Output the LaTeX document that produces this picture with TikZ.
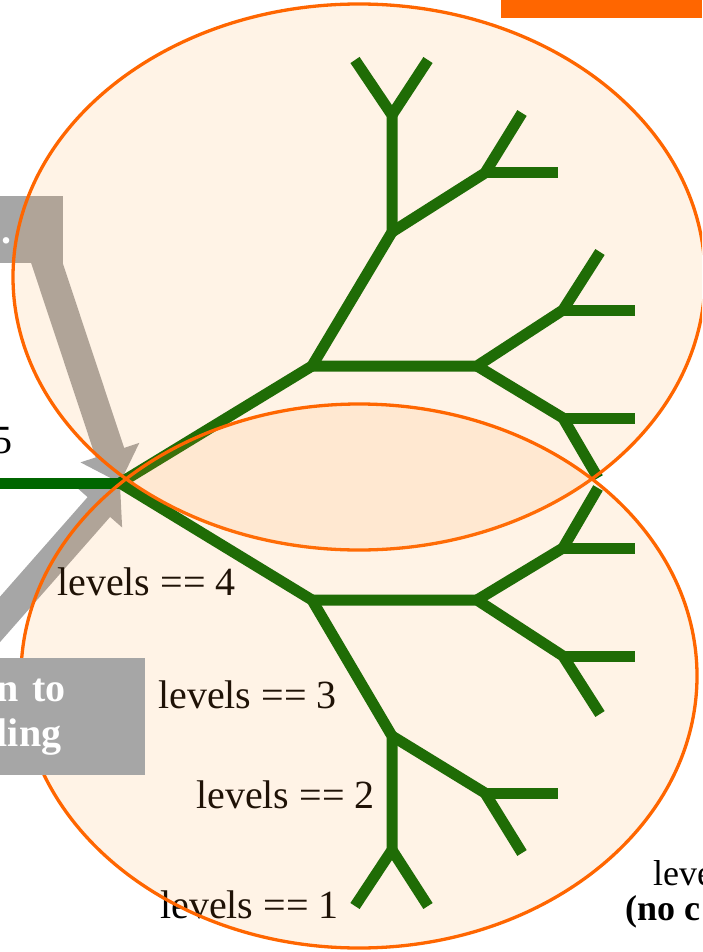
\documentclass[tikz,border=0pt]{standalone}
\usepackage{fontspec}
\setmainfont{Liberation Serif}
\usetikzlibrary{arrows.meta}

\definecolor{treegreen}{HTML}{006600}
\definecolor{ovalline}{HTML}{FF6600}
\definecolor{ovalfill}{HTML}{FF9933}
\definecolor{calloutgray}{HTML}{A6A6A6}

\tikzset{
    branch/.style={draw=treegreen, line width=11pt, line join=round},
    oval/.style={draw=ovalline, line width=3.3pt, fill=ovalfill, fill opacity=0.12},
    greybox/.style={fill=calloutgray, text=white, font=\bfseries\fontsize{40}{45}\selectfont},
    bigarrow/.style={draw=calloutgray, line width=30pt, -{Triangle[width=60pt,length=32pt]}},
    lbl/.style={font=\fontsize{40}{45}\selectfont, inner sep=0pt},
    note/.style={font=\fontsize{36}{40}\selectfont, inner sep=0pt}
}

\begin{document}
\begin{tikzpicture}[
        x=1pt,
        y=-1pt
    ]

    \useasboundingbox (0,0) rectangle (702,952);
    \clip (0,0) rectangle (702,952);

    % Callout box at the top left
    \node[greybox, anchor=east, minimum height=67pt, inner xsep=51pt, inner ysep=0pt,
        text height=27pt, text depth=0pt] (topbox) at (63,229.5) {..};

    % Recursion tree, root and incoming call
    \coordinate (stem) at (0,483);
    \coordinate (root) at (120,483);
    \coordinate (calltail) at (-34,658);

    % Big arrows pointing at the root
    \draw[bigarrow] ([shift={(-20pt,12pt)}]topbox.south east) -- (root);
    \draw[bigarrow] (calltail) -- (root);

    % Upper half
    \coordinate (uA) at (312,366);
    \coordinate (uB) at (477,366);
    \coordinate (uC) at (392,232);
    \coordinate (uD) at (485,173);
    \coordinate (uE) at (392,115);
    \coordinate (uEl) at (355,60);
    \coordinate (uEr) at (428,60);
    \coordinate (uDh) at (558,173);
    \coordinate (uDt) at (522,113);
    \coordinate (uF) at (563,310);
    \coordinate (uFh) at (635,310);
    \coordinate (uFt) at (600,252);
    \coordinate (uG) at (563,418);
    \coordinate (uGh) at (635,418);
    \coordinate (uGt) at (598,478);

    % Lower half
    \coordinate (lA) at (312,600);
    \coordinate (lB) at (477,600);
    \coordinate (lC) at (392,736);
    \coordinate (lD) at (485,793);
    \coordinate (lE) at (392,850);
    \coordinate (lEl) at (355,906);
    \coordinate (lEr) at (428,906);
    \coordinate (lDh) at (558,793);
    \coordinate (lDt) at (522,853);
    \coordinate (lF) at (563,656);
    \coordinate (lFh) at (635,656);
    \coordinate (lFt) at (600,714);
    \coordinate (lG) at (563,548);
    \coordinate (lGh) at (635,548);
    \coordinate (lGt) at (598,488);

    \draw[branch] (stem) -- (root);

    \draw[branch] (root) -- (uA) -- (uC) -- (uE) -- (uEl);
    \draw[branch] (uE) -- (uEr);
    \draw[branch] (uC) -- (uD) -- (uDt);
    \draw[branch] (uD) -- (uDh);
    \draw[branch] (uA) -- (uB) -- (uF) -- (uFt);
    \draw[branch] (uF) -- (uFh);
    \draw[branch] (uB) -- (uG) -- (uGt);
    \draw[branch] (uG) -- (uGh);

    \draw[branch] (root) -- (lA) -- (lC) -- (lE) -- (lEl);
    \draw[branch] (lE) -- (lEr);
    \draw[branch] (lC) -- (lD) -- (lDt);
    \draw[branch] (lD) -- (lDh);
    \draw[branch] (lA) -- (lB) -- (lF) -- (lFt);
    \draw[branch] (lF) -- (lFh);
    \draw[branch] (lB) -- (lG) -- (lGt);
    \draw[branch] (lG) -- (lGh);

    % Level labels
    \node[lbl, anchor=base east] (lvfive) at (13,453) {5};
    \node[lbl, anchor=base west] (lvfour) at (57,595) {levels == 4};
    \node[lbl, anchor=base west] (lvthree) at (158,708) {levels == 3};
    \node[lbl, anchor=base west] (lvtwo) at (196,808) {levels == 2};
    \node[lbl, anchor=base west] (lvone) at (160,918) {levels == 1};

    % Two overlapping ovals
    \draw[oval] (359,277) ellipse [x radius=346, y radius=273];
    \draw[oval] (359,676) ellipse [x radius=338, y radius=272];

    % Callout box at the bottom left, over the oval edge
    \node[greybox, anchor=north east, minimum height=117pt, text width=140pt,
        inner xsep=8pt, align=left] (callbox) at (145,658) {n to\\ling};

    % Bottom right note
    \node[note, anchor=base west] (lvzero) at (653,885) {leve};
    \node[note, anchor=base west, font=\bfseries\fontsize{36}{40}\selectfont] (nocall) at (625,920) {(no c};

    % Title bar edge
    \fill[ovalline] (501,0) rectangle (702,18);

\end{tikzpicture}
\end{document}
